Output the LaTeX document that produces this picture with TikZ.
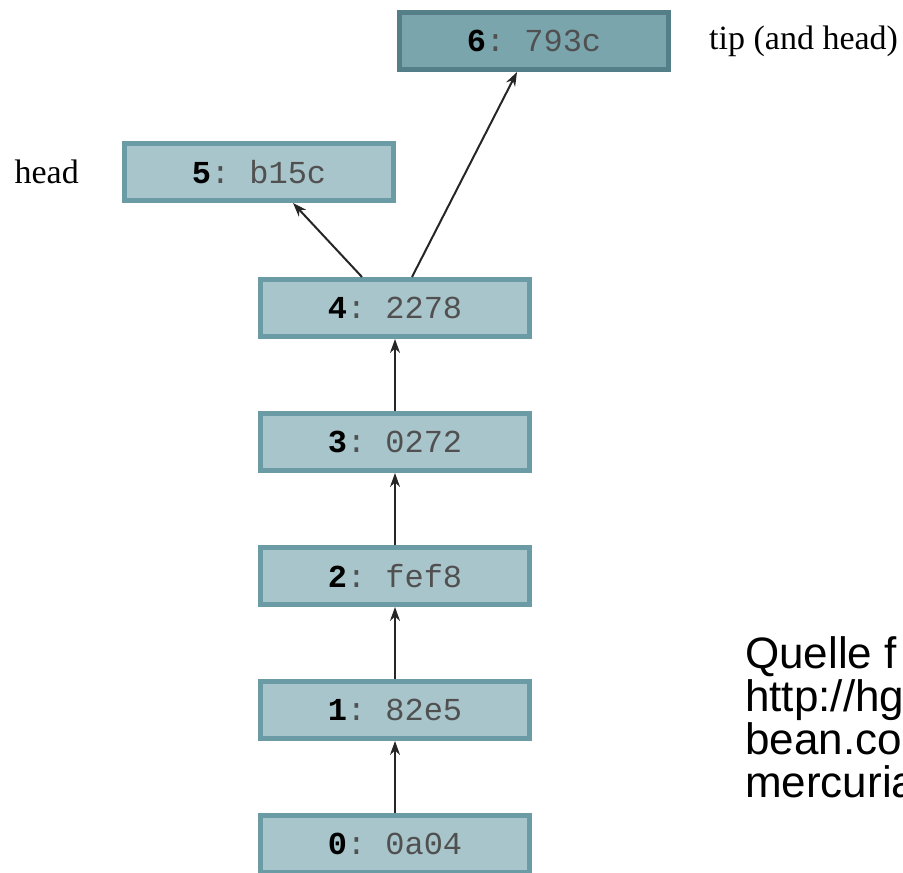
\documentclass[tikz,border=0pt]{standalone}
\usepackage{fontspec}
\setmainfont{Liberation Serif}
\setsansfont{Liberation Sans}
\setmonofont{Liberation Mono}
\usetikzlibrary{positioning,arrows.meta}
\definecolor{revfill}{HTML}{A8C5CB}
\definecolor{revline}{HTML}{6B9BA4}
\definecolor{tipfill}{HTML}{7AA5AD}
\definecolor{tipline}{HTML}{557F88}
\definecolor{hashgray}{HTML}{505050}
\tikzstyle{RevBox}=[rectangle, draw=revline, fill=revfill, line width=5pt, minimum width=269pt, minimum height=57pt, inner sep=0pt, font=\fontsize{32}{36}\selectfont\ttfamily]
\tikzstyle{TipBox}=[RevBox, draw=tipline, fill=tipfill]
\tikzstyle{RevLabel}=[inner sep=0pt, font=\fontsize{34}{40}\selectfont\rmfamily]
\tikzstyle{SourceNote}=[inner sep=0pt, align=left, font=\fontsize{44}{43}\selectfont\sffamily]
\tikzstyle{Connector}=[-{Stealth[length=14pt, width=10pt]}, line width=2pt, draw=black!85]
\newcommand{\RevText}[2]{\textbf{#1}\textcolor{hashgray}{: #2}}

\begin{document}
\begin{tikzpicture}[x=1pt, y=-1pt]
			\clip (0,0) rectangle (903,873);
			%Nodos
			\node[RevBox]		(rev0)	at (395,844)						{\RevText{0}{0a04}};
			\node[RevBox]		(rev1)	[above=72pt of rev0]				{\RevText{1}{82e5}};
			\node[RevBox]		(rev2)	[above=72pt of rev1]				{\RevText{2}{fef8}};
			\node[RevBox]		(rev3)	[above=72pt of rev2]				{\RevText{3}{0272}};
			\node[RevBox]		(rev4)	[above=72pt of rev3]				{\RevText{4}{2278}};
			\node[RevBox]		(rev5)	[above=74pt of rev4, xshift=-136pt]	{\RevText{5}{b15c}};
			\node[TipBox]		(rev6)	[above=205pt of rev4, xshift=139pt]	{\RevText{6}{793c}};

			%Etiquetas
			\node[RevLabel]	(headlabel)	[left=43pt of rev5]		{head};
			\node[RevLabel]	(tiplabel)	[right=38pt of rev6]	{tip (and head)};
			\node[SourceNote, anchor=north west]	(source)	at (745,636)	{Quelle f\\http://hg\\bean.co\\mercuria};

			%Lineas
			\draw[Connector] (rev0.north) -- (rev1.south);
			\draw[Connector] (rev1.north) -- (rev2.south);
			\draw[Connector] (rev2.north) -- (rev3.south);
			\draw[Connector] (rev3.north) -- (rev4.south);
			\draw[Connector] ([xshift=-33pt]rev4.north) -- ([xshift=34pt]rev5.south);
			\draw[Connector] ([xshift=17pt]rev4.north) -- ([xshift=-17pt]rev6.south);
\end{tikzpicture}
\end{document}
